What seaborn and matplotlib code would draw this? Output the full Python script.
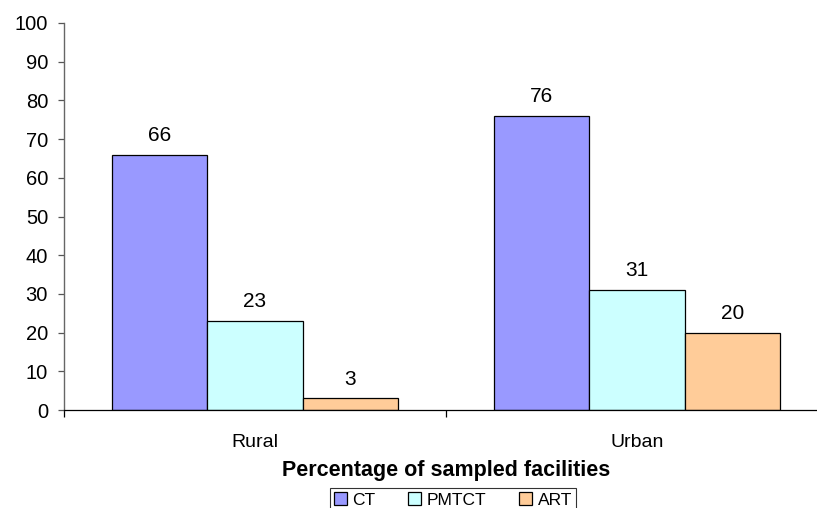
import matplotlib
matplotlib.use("Agg")
import matplotlib.pyplot as plt
import seaborn as sns
import pandas as pd
from matplotlib.ticker import FixedLocator

locations = ["Rural", "Urban"]
services = ["CT", "PMTCT", "ART"]
ct = [66, 76]
pmtct = [23, 31]
art = [3, 20]
y_ticks = [0, 10, 20, 30, 40, 50, 60, 70, 80, 90, 100]
colors = ["#9999FF", "#CCFFFF", "#FFCC99"]

df = pd.DataFrame({
    "Location": locations * 3,
    "Service": [s for s in services for _ in locations],
    "Value": ct + pmtct + art,
})

sns.set_style("white")
plt.rcParams["font.family"] = ["Liberation Sans", "DejaVu Sans"]
plt.rcParams["text.color"] = "black"
plt.rcParams["axes.labelcolor"] = "black"
plt.rcParams["xtick.labelcolor"] = "black"
plt.rcParams["ytick.labelcolor"] = "black"

fig = plt.figure(figsize=(8.17, 5.08), dpi=100)
ax = fig.add_axes([64 / 817, 1 - 410 / 508, (828 - 64) / 817, (410 - 23) / 508])

sns.barplot(data=df, x="Location", y="Value", hue="Service", order=locations,
            hue_order=services, palette=colors, width=0.75, saturation=1,
            edgecolor="black", linewidth=0.9, ax=ax, legend=True)

for cont in ax.containers:
    ax.bar_label(cont, labels=[f"{v:g}" for v in cont.datavalues],
                 padding=7, fontsize=15, color="black")

ax.set_xlim(-0.5, 1.5)
ax.set_ylim(0, 100)
ax.set_yticks(y_ticks)
ax.tick_params(axis="y", labelsize=14.5, length=4.5, width=0.9, color="#555555",
               labelcolor="black", direction="out", left=True, pad=7)
ax.xaxis.set_major_locator(FixedLocator([0, 1]))
ax.xaxis.set_minor_locator(FixedLocator([-0.5, 0.5, 1.5]))
ax.tick_params(axis="x", which="major", length=0, labelsize=14, pad=17,
               labelcolor="black")
ax.tick_params(axis="x", which="minor", length=5, width=0.9, color="black",
               direction="out", bottom=True)
ax.set_xlabel("Percentage of sampled facilities", fontsize=15.5,
              fontweight="bold", labelpad=7, color="black")
ax.set_ylabel("")

for side in ["top", "right"]:
    ax.spines[side].set_visible(False)
ax.spines["left"].set_color("#666666")
ax.spines["left"].set_linewidth(1.0)
ax.spines["bottom"].set_color("black")
ax.spines["bottom"].set_linewidth(0.9)

handles, labels = ax.get_legend_handles_labels()
ax.legend_.remove()
leg = fig.legend(handles, labels, loc="upper center",
                 bbox_to_anchor=(453 / 817, 1 - 488 / 508), ncol=3,
                 frameon=True, fancybox=False, fontsize=12.5,
                 handlelength=0.75, handleheight=0.75, handletextpad=0.3,
                 columnspacing=1.9, borderpad=0.25, borderaxespad=0,
                 edgecolor="black", labelcolor="black")
leg.get_frame().set_linewidth(0.8)

fig.savefig("out.png", dpi=100)
